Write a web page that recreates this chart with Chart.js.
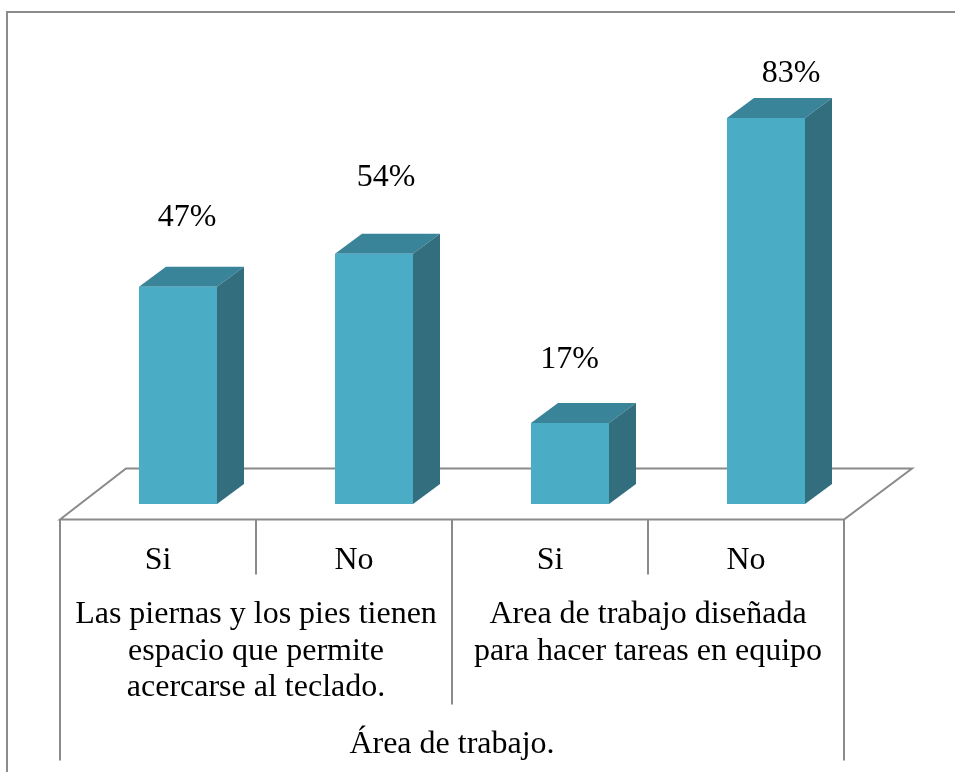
<!DOCTYPE html>
<html lang="es">
<head>
<meta charset="utf-8">
<title>Área de trabajo</title>
<style>
html,body{margin:0;padding:0;background:#fff;overflow:hidden}
canvas{display:block}
</style>
<script src="https://cdn.jsdelivr.net/npm/chart.js@4"></script>
</head>
<body>
<canvas id="c" width="955" height="772"></canvas>
<script>
const categories = ['Si', 'No', 'Si', 'No'];
const values = [46.7, 53.8, 17.4, 83.0];
const groupLabels = [
  ['Las piernas y los pies tienen', 'espacio que permite', 'acercarse al teclado.'],
  ['Area de trabajo diseñada', 'para hacer tareas en equipo']
];
const topLabel = 'Área de trabajo.';

const FONT = '32px "Liberation Serif", "Times New Roman", serif';
const LINE = '#8a8a8a';
const DEPTH_X = 27, DEPTH_Y = 20, SHIFT = 20;
const labelNudges = [[9, -61], [12, -68], [-0.5, -55], [25, -36]];

function poly(ctx, pts, fill, stroke) {
  ctx.beginPath();
  pts.forEach((p, i) => i ? ctx.lineTo(p[0], p[1]) : ctx.moveTo(p[0], p[1]));
  ctx.closePath();
  if (fill) { ctx.fillStyle = fill; ctx.fill(); }
  if (stroke) { ctx.strokeStyle = stroke; ctx.lineWidth = 2; ctx.stroke(); }
}
function seg(ctx, x1, y1, x2, y2) {
  ctx.beginPath(); ctx.moveTo(x1, y1); ctx.lineTo(x2, y2); ctx.stroke();
}

const box3d = {
  id: 'box3d',
  beforeDatasetsDraw(chart) {
    const { ctx, chartArea: a } = chart;
    const w = chart.scales.x.width / categories.length;
    const fl = a.left - SHIFT, fr = fl + w * categories.length;
    const fy = a.bottom + 15.5, by = a.bottom - 35.5;
    ctx.save();
    // page frame
    ctx.strokeStyle = '#8c8c8c'; ctx.lineWidth = 2;
    seg(ctx, 7, 772, 7, 12); seg(ctx, 6, 12, 955, 12);
    // floor
    poly(ctx, [[fl, fy], [fl + 66, by], [fr + 68, by], [fr, fy]], '#ffffff', LINE);
    // axis dividers, derived from the category band width
    ctx.strokeStyle = LINE; ctx.lineWidth = 2;
    const drops = [241, 55, 185, 55, 241];
    drops.forEach((d, i) => seg(ctx, fl + w * i, fy, fl + w * i, fy + d));
    // sides and tops of the bars
    chart.getDatasetMeta(0).data.forEach(b => {
      const l = b.x - b.width / 2, r = b.x + b.width / 2;
      poly(ctx, [[l, b.y], [l + DEPTH_X, b.y - DEPTH_Y], [r + DEPTH_X, b.y - DEPTH_Y], [r, b.y]], '#3a8499');
      poly(ctx, [[r, b.y], [r + DEPTH_X, b.y - DEPTH_Y], [r + DEPTH_X, b.base - DEPTH_Y], [r, b.base]], '#326e7e');
    });
    ctx.restore();
  },
  afterDatasetsDraw(chart) {
    const { ctx, chartArea: a } = chart;
    const w = chart.scales.x.width / categories.length;
    const fl = a.left - SHIFT;
    ctx.save();
    ctx.font = FONT; ctx.fillStyle = '#000';
    ctx.textAlign = 'center'; ctx.textBaseline = 'alphabetic';
    // value labels
    chart.getDatasetMeta(0).data.forEach((b, i) => {
      ctx.fillText(Math.round(values[i]) + '%', b.x + labelNudges[i][0], b.y + labelNudges[i][1]);
    });
    // group labels
    groupLabels.forEach((lines, g) => {
      lines.forEach((t, j) => ctx.fillText(t, fl + w * (2 * g + 1), a.bottom + 119 + j * 36.6));
    });
    ctx.fillText(topLabel, fl + w * 2, a.bottom + 249);
    ctx.restore();
  }
};

new Chart(document.getElementById('c'), {
  type: 'bar',
  data: {
    labels: categories,
    datasets: [{
      data: values,
      backgroundColor: '#4bacc6',
      borderWidth: 0,
      categoryPercentage: 1,
      barPercentage: 0.398
    }]
  },
  options: {
    responsive: false,
    animation: false,
    layout: { padding: { left: 80, right: 91, top: 39, bottom: 0 } },
    plugins: { legend: { display: false }, tooltip: { enabled: false }, title: { display: false } },
    scales: {
      x: {
        grid: { display: false, drawTicks: false },
        border: { display: false },
        afterFit(s) { s.height = 268; },
        ticks: {
          autoSkip: false, maxRotation: 0, minRotation: 0,
          color: '#000', padding: 37, labelOffset: -SHIFT,
          font: { family: '"Liberation Serif", "Times New Roman", serif', size: 32 }
        }
      },
      y: { display: false, min: 0, max: 100 }
    }
  },
  plugins: [box3d]
});
</script>
</body>
</html>
